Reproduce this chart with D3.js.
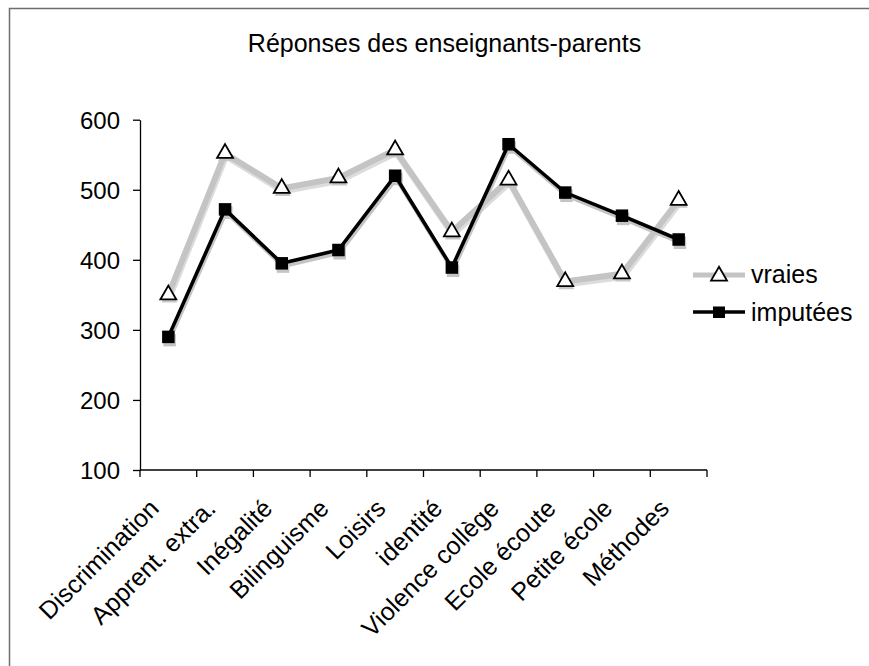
<!DOCTYPE html>
<html><head><meta charset="utf-8">
<script src="https://cdn.jsdelivr.net/npm/d3@7"></script>
<style>body{margin:0;background:#fff;}svg{display:block;font-family:"Liberation Sans",Arial,sans-serif;}</style>
</head><body>
<svg id="c" width="869" height="666"></svg>
<script>
const categories = ["Discrimination","Apprent. extra.","Inégalité","Bilinguisme","Loisirs","identité","Violence collège","Ecole écoute","Petite école","Méthodes"];
const vraies = [350,552,502,517,557,440,514,369,380,485];
const imputees = [290,472,395,414,520,389,565,496,463,429];
const yTicks = [100,200,300,400,500,600];
const title = "Réponses des enseignants-parents";

const svg = d3.select("#c");
svg.append("rect").attr("x",9.5).attr("y",8.5).attr("width",880).attr("height",700)
  .attr("fill","#fff").attr("stroke","#6e6e6e").attr("stroke-width",1.5);

const x = d3.scaleBand().domain(categories).range([140,707]);
const y = d3.scaleLinear().domain([100,600]).range([470,119.7]);
const cx = d => x(d) + x.bandwidth()/2;

svg.append("text").attr("x",444.5).attr("y",52).attr("text-anchor","middle")
  .attr("font-size",25).text(title);

// y axis
const ya = svg.append("g").attr("transform","translate(140,0)")
  .call(d3.axisLeft(y).tickValues(yTicks).tickSize(7).tickSizeOuter(0));
ya.select(".domain").attr("stroke","#000").attr("stroke-width",1.3);
ya.selectAll(".tick line").attr("stroke","#000").attr("stroke-width",1.3);
ya.selectAll(".tick text").attr("font-size",24).attr("fill","#000").attr("x",-20).attr("dy","0.35em")
  .attr("font-family","Liberation Sans, Arial, sans-serif");

// x axis with tick marks at band boundaries
const xa = svg.append("g").attr("transform","translate(0,470)");
xa.append("line").attr("x1",140).attr("x2",707).attr("stroke","#000").attr("stroke-width",1.3);
const bounds = categories.map(c=>x(c)).concat([x(categories[categories.length-1])+x.bandwidth()]);
xa.selectAll("line.t").data(bounds).join("line").attr("class","t")
  .attr("x1",d=>d).attr("x2",d=>d).attr("y1",0).attr("y2",7).attr("stroke","#000").attr("stroke-width",1.3);
xa.selectAll("text").data(categories).join("text")
  .attr("transform",d=>`translate(${cx(d)-8},${40}) rotate(-45)`)
  .attr("text-anchor","end").attr("font-size",25).attr("fill","#000").text(d=>d);

const line = d3.line().x((d,i)=>cx(categories[i])).y(d=>y(d));
const tri = d3.symbol().type(d3.symbolTriangle).size(110);

// shadows
svg.append("path").datum(vraies).attr("d",line).attr("transform","translate(1,3)")
  .attr("fill","none").attr("stroke","#dcdcdc").attr("stroke-width",6);
svg.append("path").datum(imputees).attr("d",line).attr("transform","translate(1,3)")
  .attr("fill","none").attr("stroke","#c4c4c4").attr("stroke-width",3.8);
svg.append("g").selectAll("path").data(vraies).join("path")
  .attr("transform",(d,i)=>`translate(${cx(categories[i])+1},${y(d)+3})`)
  .attr("d",tri).attr("fill","#c8c8c8");
svg.append("g").selectAll("rect").data(imputees).join("rect")
  .attr("x",(d,i)=>cx(categories[i])-5).attr("y",d=>y(d)-3)
  .attr("width",12.5).attr("height",12.5).attr("fill","#c4c4c4");

svg.append("path").datum(vraies).attr("d",line)
  .attr("fill","none").attr("stroke","#c4c4c4").attr("stroke-width",6);
svg.append("path").datum(imputees).attr("d",line)
  .attr("fill","none").attr("stroke","#000").attr("stroke-width",3.6);

svg.append("g").selectAll("path").data(vraies).join("path")
  .attr("transform",(d,i)=>`translate(${cx(categories[i])},${y(d)})`)
  .attr("d",tri).attr("fill","#fff").attr("stroke","#000").attr("stroke-width",1.8);
svg.append("g").selectAll("rect").data(imputees).join("rect")
  .attr("x",(d,i)=>cx(categories[i])-6.25).attr("y",d=>y(d)-6.25)
  .attr("width",12.5).attr("height",12.5).attr("fill","#000");

// legend
const lg = svg.append("g");
lg.append("line").attr("x1",693).attr("x2",745).attr("y1",275).attr("y2",275).attr("stroke","#c4c4c4").attr("stroke-width",5);
lg.append("path").attr("d",tri).attr("transform","translate(719,276)").attr("fill","#fff").attr("stroke","#000").attr("stroke-width",1.8);
lg.append("text").attr("x",751).attr("y",283).attr("font-size",25).text("vraies");
lg.append("line").attr("x1",693).attr("x2",745).attr("y1",312).attr("y2",312).attr("stroke","#000").attr("stroke-width",3.6);
lg.append("rect").attr("x",713).attr("y",306.5).attr("width",12).attr("height",11.5).attr("fill","#000");
lg.append("text").attr("x",751).attr("y",321).attr("font-size",25).text("imputées");
</script>
</body></html>
